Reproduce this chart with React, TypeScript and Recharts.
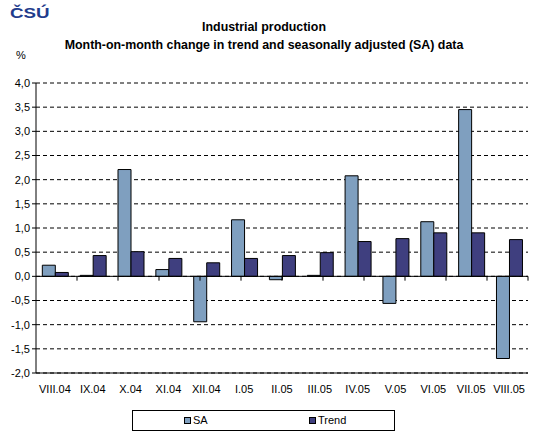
import React from 'react';
import { BarChart, Bar, XAxis, YAxis, CartesianGrid, ReferenceLine } from 'recharts';

const months = ['VIII.04', 'IX.04', 'X.04', 'XI.04', 'XII.04', 'I.05', 'II.05', 'III.05', 'IV.05', 'V.05', 'VI.05', 'VII.05', 'VIII.05'];
const saValues = [0.23, 0.02, 2.21, 0.14, -0.94, 1.17, -0.07, 0.02, 2.08, -0.56, 1.13, 3.45, -1.7];
const trendValues = [0.08, 0.43, 0.51, 0.37, 0.28, 0.37, 0.43, 0.49, 0.72, 0.78, 0.9, 0.9, 0.76];
const yTicks = [-2, -1.5, -1, -0.5, 0, 0.5, 1, 1.5, 2, 2.5, 3, 3.5, 4];
const boundaries = [1, 2, 3, 4, 5, 6, 7, 8, 9, 10, 11, 12];

const SA_COLOR = '#7f9fbf';
const TREND_COLOR = '#3f3f7f';

const data = months.map((m, i) => ({ month: m, sa: saValues[i], trend: trendValues[i] }));

const font = 'Arial, "Liberation Sans", sans-serif';
const fmt = (v: number) => v.toFixed(1).replace('.', ',');

const legendItems = [
  { label: 'SA', color: SA_COLOR, left: 51 },
  { label: 'Trend', color: TREND_COLOR, left: 176 },
];

export default function App() {
  return (
    <div style={{ position: 'absolute', left: 0, top: 0, width: 556, height: 440, background: '#fff', fontFamily: font }}>
      <div style={{ position: 'absolute', left: 10, top: 4, fontSize: 15, fontWeight: 900, color: '#1f3c8c', transform: 'scaleX(1.25)', transformOrigin: 'left top' }}>ČSÚ</div>
      <div style={{ position: 'absolute', left: 0, width: 528, top: 18, textAlign: 'center', fontSize: 12.4, fontWeight: 'bold', lineHeight: '18px' }}>
        <div>Industrial production</div>
        <div>Month-on-month change in trend and seasonally adjusted (SA) data</div>
      </div>
      <div style={{ position: 'absolute', left: 16, top: 49, fontSize: 11 }}>%</div>
      <BarChart width={556} height={440} data={data} margin={{ top: 83, right: 28, left: 0, bottom: 0 }} barCategoryGap="16.7%" barGap={0}>
        <CartesianGrid vertical={false} stroke="#000" strokeDasharray="4 3" yAxisId="left" />
        <XAxis dataKey="month" axisLine={{ stroke: '#000' }} tickLine={false} interval={0} tick={{ fill: '#000', fontSize: 11, fontFamily: font, dy: 4 }} height={67} />
        <XAxis xAxisId="top" orientation="top" type="number" domain={[0, 13]} tick={false} tickLine={false} axisLine={{ stroke: '#000' }} height={0} />
        <YAxis yAxisId="left" domain={[-2, 4]} ticks={yTicks} tickFormatter={fmt} axisLine={{ stroke: '#000' }} tickLine={{ stroke: '#000' }} tickSize={4} width={36} tick={{ fill: '#000', fontSize: 11, fontFamily: font }} interval={0} />
        <YAxis yAxisId="right" orientation="right" domain={[-2, 4]} tick={false} tickLine={false} axisLine={{ stroke: '#000' }} width={0} />
        <ReferenceLine yAxisId="left" y={0} stroke="#000" />
        {boundaries.map((b) => (
          <ReferenceLine key={b} xAxisId="top" yAxisId="left" segment={[{ x: b, y: 0 }, { x: b, y: -0.09 }]} stroke="#000" />
        ))}
        <Bar yAxisId="left" dataKey="sa" name="SA" fill={SA_COLOR} stroke="#000" strokeWidth={1} isAnimationActive={false} />
        <Bar yAxisId="left" dataKey="trend" name="Trend" fill={TREND_COLOR} stroke="#000" strokeWidth={1} isAnimationActive={false} />
      </BarChart>
      <div style={{ position: 'absolute', left: 132, top: 410, width: 263, height: 21, border: '1px solid #000', boxSizing: 'border-box', fontSize: 11 }}>
        {legendItems.map((it) => (
          <div key={it.label} style={{ position: 'absolute', left: it.left, top: 3, display: 'flex', alignItems: 'center' }}>
            <span style={{ display: 'inline-block', width: 5, height: 5, background: it.color, border: '1px solid #000', marginRight: 2 }} />
            <span>{it.label}</span>
          </div>
        ))}
      </div>
    </div>
  );
}
